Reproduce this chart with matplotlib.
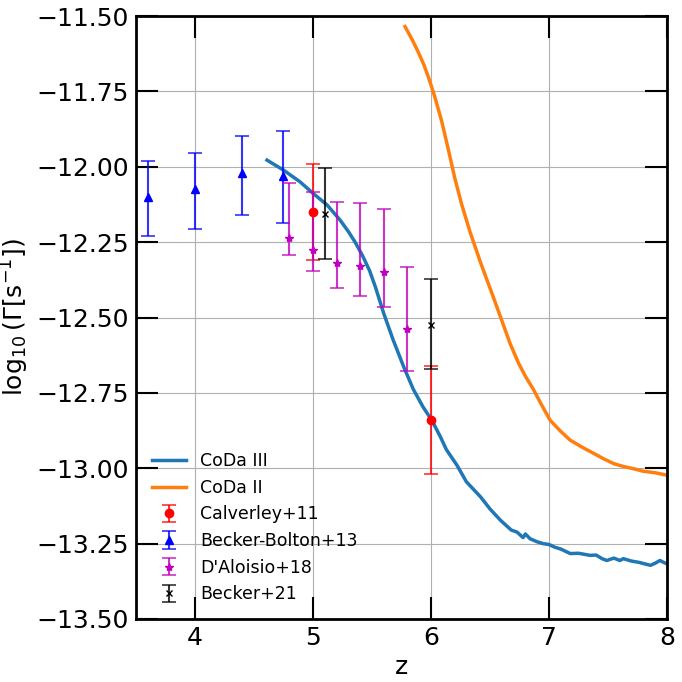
import numpy as np
import matplotlib
matplotlib.use("Agg")
import matplotlib.pyplot as plt

# CoDa III photoionisation rate
z_coda3 = [4.61, 4.75, 4.89, 5.00, 5.12, 5.23, 5.30, 5.36, 5.42, 5.48, 5.53, 5.60,
           5.68, 5.77, 5.85, 5.93, 6.01, 6.08, 6.13, 6.22, 6.30, 6.42, 6.50, 6.59,
           6.68, 6.73, 6.78, 6.80, 6.84, 6.90, 6.95, 7.00, 7.05, 7.10, 7.18, 7.25,
           7.35, 7.40, 7.45, 7.49, 7.55, 7.60, 7.63, 7.70, 7.76, 7.82, 7.86, 7.90,
           7.94, 7.97, 8.00]
g_coda3 = [-11.978, -12.011, -12.050, -12.088, -12.127, -12.177, -12.215, -12.252,
           -12.295, -12.345, -12.400, -12.487, -12.575, -12.665, -12.738, -12.795,
           -12.843, -12.896, -12.938, -12.990, -13.045, -13.095, -13.135, -13.173,
           -13.205, -13.212, -13.230, -13.218, -13.234, -13.244, -13.250, -13.253,
           -13.262, -13.268, -13.283, -13.282, -13.289, -13.288, -13.300, -13.306,
           -13.298, -13.306, -13.300, -13.308, -13.312, -13.318, -13.322, -13.315,
           -13.306, -13.312, -13.317]

# CoDa II
z_coda2 = [5.78, 5.84, 5.89, 5.94, 5.98, 6.03, 6.09, 6.15, 6.20, 6.26, 6.33, 6.42,
           6.51, 6.60, 6.67, 6.74, 6.80, 6.87, 6.94, 7.01, 7.10, 7.18, 7.28, 7.38,
           7.46, 7.55, 7.63, 7.71, 7.80, 7.90, 8.00]
g_coda2 = [-11.535, -11.578, -11.618, -11.662, -11.705, -11.765, -11.848, -11.948,
           -12.035, -12.125, -12.215, -12.318, -12.413, -12.510, -12.586, -12.650,
           -12.695, -12.740, -12.792, -12.841, -12.878, -12.907, -12.930, -12.951,
           -12.968, -12.985, -12.994, -13.001, -13.010, -13.015, -13.023]

# observations: z, log10 Gamma, lower / upper errors
z_calv = [5.0, 6.0]
g_calv = [-12.15, -12.84]
lo_calv = [0.16, 0.18]
hi_calv = [0.16, 0.18]

z_bb = [3.6, 4.0, 4.4, 4.75]
g_bb = [-12.10, -12.074, -12.021, -12.032]
lo_bb = [0.13, 0.132, 0.139, 0.154]
hi_bb = [0.118, 0.119, 0.123, 0.150]

z_dal = [4.8, 5.0, 5.2, 5.4, 5.6, 5.8]
g_dal = [-12.236, -12.275, -12.319, -12.328, -12.349, -12.537]
lo_dal = [0.056, 0.070, 0.083, 0.100, 0.116, 0.140]
hi_dal = [0.182, 0.191, 0.202, 0.208, 0.209, 0.205]

z_beck = [5.1, 6.0]
g_beck = [-12.157, -12.524]
lo_beck = [0.149, 0.148]
hi_beck = [0.153, 0.151]

fig = plt.figure(figsize=(6.82, 6.82), dpi=100)
ax = fig.add_axes([0.1994, 0.0924, 0.7786, 0.8841])

ax.plot(z_coda3, g_coda3, color='tab:blue', lw=2.5, label='CoDa III')
ax.plot(z_coda2, g_coda2, color='tab:orange', lw=2.5, label='CoDa II')

ekw = dict(ls='none', capsize=5, elinewidth=1.5, capthick=1.2)
e1 = ax.errorbar(z_calv, g_calv, yerr=[lo_calv, hi_calv], fmt='o', color='r',
                 ms=6, label='Calverley+11', **ekw)
e2 = ax.errorbar(z_bb, g_bb, yerr=[lo_bb, hi_bb], fmt='^', color='b',
                 ms=6, label='Becker-Bolton+13', **ekw)
e3 = ax.errorbar(z_dal, g_dal, yerr=[lo_dal, hi_dal], fmt='*', color='m',
                 ms=6, label="D'Aloisio+18", **ekw)
e4 = ax.errorbar(z_beck, g_beck, yerr=[lo_beck, hi_beck], fmt='x', color='k',
                 ms=5, label='Becker+21', **ekw)
for e in (e1, e2, e3, e4):
    for c in e[2]:
        c.set_alpha(0.8)
    for c in e[1]:
        c.set_alpha(0.8)

ax.set_xlim(3.5, 8)
ax.set_ylim(-13.5, -11.5)
ax.set_yticks(np.arange(-13.5, -11.49, 0.25))
ax.set_xticks([4, 5, 6, 7, 8])
ax.grid(True, color='#b0b0b0', lw=0.8)
ax.set_axisbelow(True)

ax.tick_params(direction='in', length=16, width=1.5, labelsize=18,
               top=True, right=True, pad=5)
for s in ax.spines.values():
    s.set_linewidth(2)

ax.set_xlabel('z', fontsize=18)
ax.set_ylabel(r'$\log_{10}(\Gamma[\mathrm{s}^{-1}])$', fontsize=18)
ax.legend(loc='lower left', frameon=False, fontsize=12.5, labelspacing=0.5)

fig.savefig('out.png', dpi=100)
